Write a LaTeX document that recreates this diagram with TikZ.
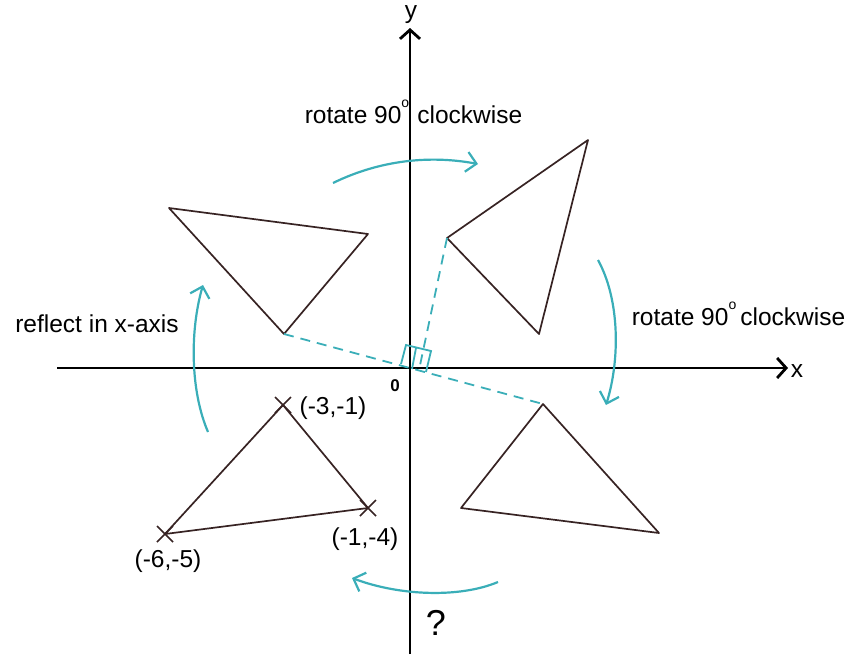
\documentclass[tikz,border=0pt]{standalone}
\usepackage{fontspec}
\setmainfont{Liberation Sans}
\usetikzlibrary{arrows.meta}
\definecolor{teal1}{RGB}{58,174,184}
\definecolor{tri}{RGB}{55,35,35}
\newcommand{\degsup}{\raisebox{0.62em}{\fontsize{14}{14}\selectfont o}}
\begin{document}
\begin{tikzpicture}[x=1pt,y=-1pt,
  axis/.style={line width=2.8pt,black,-{Straight Barb[length=9pt,width=20pt,line width=2.8pt]}},
  turn/.style={line width=2.2pt,teal1,-{Straight Barb[length=10pt,width=20pt,line width=2.2pt]}},
  triline/.style={line width=1.7pt,tri,line join=round},
  guide/.style={line width=1.8pt,teal1,dash pattern=on 10pt off 7pt},
  lbl/.style={font=\fontsize{24.5}{28}\selectfont,anchor=base,inner sep=0pt},
  xmark/.style={line width=1.7pt,tri}]
\useasboundingbox (0,0) rectangle (854,654);
% axes
\coordinate (yb) at (410,654);
\coordinate (yt) at (410,28);
\coordinate (xl) at (57,368);
\coordinate (xr) at (788,368);
\coordinate (O) at (410,368);
\draw[axis] (yb) -- (yt);
\draw[axis] (xl) -- (xr);
\node[lbl] (ylab) at (411,18) {y};
\node[lbl] (xlab) at (797,377) {x};
\node[lbl,font=\fontsize{17}{20}\selectfont\bfseries] (olab) at (395,391) {0};
% triangles
\coordinate (A1) at (169,208); \coordinate (A2) at (368,234); \coordinate (A3) at (284,334);
\coordinate (B1) at (588,140); \coordinate (B2) at (447,238); \coordinate (B3) at (539,334);
\coordinate (C1) at (543,404); \coordinate (C2) at (461,508); \coordinate (C3) at (659,533);
\coordinate (D1) at (283,405); \coordinate (D2) at (368,508); \coordinate (D3) at (165,534);
\draw[triline] (A1) -- (A2) -- (A3) -- cycle;
\draw[triline] (B1) -- (B2) -- (B3) -- cycle;
\draw[triline] (C1) -- (C2) -- (C3) -- cycle;
\draw[triline] (D1) -- (D2) -- (D3) -- cycle;
% x marks
\foreach \p in {D1,D2,D3}{
  \draw[xmark] ([shift={(-8,-8)}]\p) -- ([shift={(8,8)}]\p);
  \draw[xmark] ([shift={(-8,8)}]\p) -- ([shift={(8,-8)}]\p);
}
% dashed guides
\coordinate (P) at (419,370);
\draw[guide] (A3) -- (C1);
\draw[guide] (B2) -- (P);
% right angle marks
\draw[teal1,line width=1.8pt] (401,364) -- (406,345) -- (431,351) -- (426,372);
\draw[teal1,line width=1.8pt] (416,348) -- (412,369);
% turning arrows
\draw[turn] (333,183) .. controls (380,160) and (430,155) .. (478,164);
\draw[turn] (598,260) .. controls (620,300) and (620,360) .. (606,405);
\draw[turn] (498,582) .. controls (460,598) and (400,596) .. (352,578);
\draw[turn] (208,432) .. controls (190,390) and (190,330) .. (203,285);
% labels
\node[lbl] (t1) at (413.5,123) {rotate 90\degsup\,\,clockwise};
\node[lbl] (t2) at (738.5,325) {rotate 90\degsup\,clockwise};
\node[lbl] (t3) at (97,332) {reflect in x-axis};
\node[lbl] (p1) at (333,414) {(-3,-1)};
\node[lbl] (p2) at (365,545) {(-1,-4)};
\node[lbl] (p3) at (168,567) {(-6,-5)};
\node[lbl,font=\fontsize{36}{40}\selectfont] (q) at (436,635) {?};
\end{tikzpicture}
\end{document}
